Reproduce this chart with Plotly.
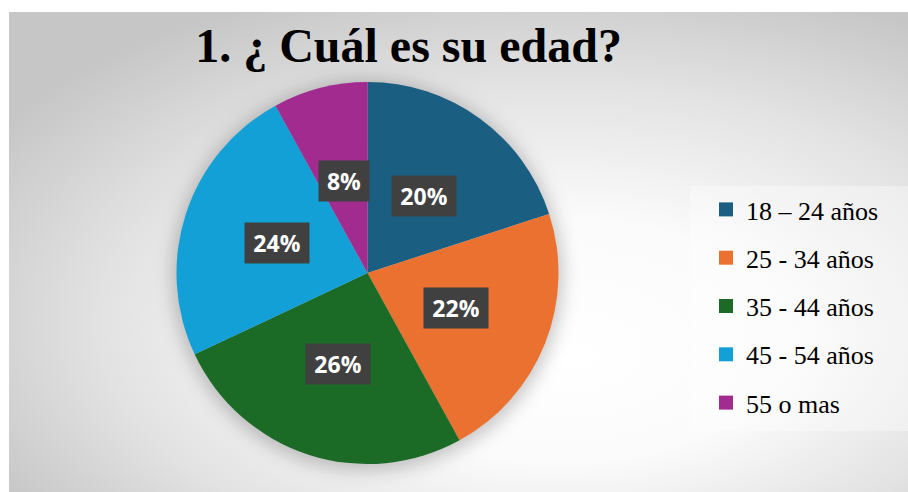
import math
import urllib.parse
import plotly.graph_objects as go

# ---- data ----
categories = ["18 – 24 años", "25 - 34 años", "35 - 44 años", "45 - 54 años", "55 o mas"]
values = [20, 22, 26, 24, 8]
colors = ["#1a5f82", "#ea7130", "#1b6a25", "#12a0d6", "#a12b8f"]
title_text = "1. ¿ Cuál es su edad?"

W, H = 908, 492
# pie geometry (pixels)
CX, CY, R = 367.5, 273.0, 191.0

dom_x = [(CX - R) / W, (CX + R) / W]
dom_y = [(H - CY - R) / H, (H - CY + R) / H]

# background: chart area with radial gradient + soft pie shadow
bx0, by0 = 9, 12
bw, bh = W - bx0, H - by0
scx, scy = CX - bx0, CY - by0 + 3
svg = f'''<svg xmlns="http://www.w3.org/2000/svg" width="{bw}" height="{bh}" viewBox="0 0 {bw} {bh}" preserveAspectRatio="none">
<defs>
<radialGradient id="g" cx="0.6" cy="0.62" r="0.72" fx="0.62" fy="0.72">
<stop offset="0" stop-color="#ffffff"/>
<stop offset="0.35" stop-color="#fbfbfb"/>
<stop offset="0.7" stop-color="#e2e2e2"/>
<stop offset="1" stop-color="#c6c6c6"/>
</radialGradient>
<filter id="b" x="-30%" y="-30%" width="160%" height="160%"><feGaussianBlur stdDeviation="9"/></filter>
</defs>
<rect x="0" y="0" width="{bw}" height="{bh}" fill="url(#g)"/>
<circle cx="{scx}" cy="{scy}" r="{R + 4}" fill="#000" fill-opacity="0.22" filter="url(#b)"/>
</svg>'''
src = "data:image/svg+xml;charset=utf-8," + urllib.parse.quote(svg)

fig = go.Figure()

fig.add_trace(go.Pie(
    labels=categories,
    values=values,
    marker=dict(colors=colors, line=dict(width=0)),
    sort=False,
    direction="clockwise",
    rotation=0,
    textinfo="none",
    domain=dict(x=dom_x, y=dom_y),
    showlegend=False,
    hoverinfo="label+percent",
))

# legend entries (square markers) with controlled spacing
for i, (cat, col) in enumerate(zip(categories, colors)):
    fig.add_trace(go.Scatter(
        x=[None], y=[None], mode="markers", name=cat,
        marker=dict(symbol="square", size=14, color=col),
        legendgroup=f"g{i}", showlegend=True, hoverinfo="skip",
    ))

# percentage label boxes at the slice mid-angles
total = sum(values)
cum = 0.0
annotations = []
for v in values:
    mid = (cum + v / 2) / total * 2 * math.pi
    cum += v
    r = 0.5 * R
    px = CX + r * math.sin(mid)
    py = CY - r * math.cos(mid)
    txt = f"{round(v / total * 100)}%"
    annotations.append(dict(
        x=px / W, y=1 - py / H, xref="paper", yref="paper",
        text=txt, showarrow=False,
        font=dict(family="Open Sans", size=23, color="white", weight=700),
        bgcolor="#404040", width=len(txt) * 14 + 20, height=38,
        xanchor="center", yanchor="middle",
    ))

fig.update_layout(
    width=W, height=H,
    margin=dict(l=0, r=0, t=0, b=0),
    paper_bgcolor="white",
    plot_bgcolor="rgba(0,0,0,0)",
    xaxis=dict(visible=False),
    yaxis=dict(visible=False),
    title=dict(
        text=title_text, x=408.5 / W, xanchor="center", xref="paper",
        y=1 - 45 / H, yanchor="middle", yref="container",
        font=dict(family="Liberation Serif", size=48, color="black", weight=700),
    ),
    legend=dict(
        x=706 / W, xanchor="left", y=1 - 186 / H, yanchor="top",
        font=dict(family="Liberation Serif", size=26, color="black"),
        bgcolor="rgba(0,0,0,0)", tracegroupgap=11.5,
        itemclick=False, itemdoubleclick=False,
    ),
    images=[dict(
        source=src, xref="paper", yref="paper",
        x=bx0 / W, y=1 - by0 / H, sizex=bw / W, sizey=bh / H,
        xanchor="left", yanchor="top", sizing="stretch", layer="below",
    )],
    shapes=[dict(
        type="rect", xref="paper", yref="paper",
        x0=690 / W, x1=1, y0=1 - 431 / H, y1=1 - 186 / H,
        fillcolor="rgba(255,255,255,0.35)", line=dict(width=0), layer="below",
    )],
    annotations=annotations,
)

fig.write_html(
    "out.html",
    config={"displayModeBar": False},
    post_script="document.body.style.margin='0';document.body.style.overflow='hidden';",
)
